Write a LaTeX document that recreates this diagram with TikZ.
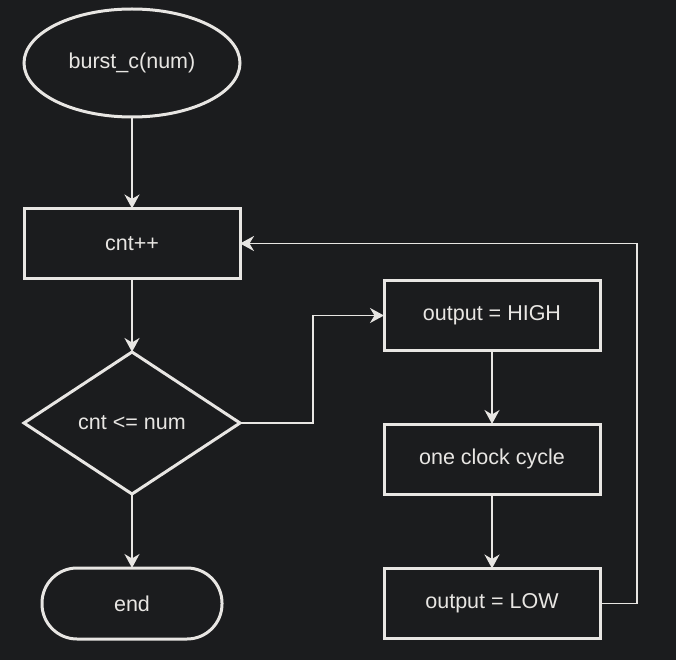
\documentclass[tikz,border=0pt]{standalone}
\usepackage{fontspec}
\setmainfont{Liberation Sans}
\usetikzlibrary{shapes.geometric,arrows.meta}
\definecolor{bgc}{HTML}{1B1C1E}
\definecolor{fgc}{HTML}{E8E6E3}
\begin{document}
\begin{tikzpicture}[x=1pt,y=-1pt,
  every node/.style={font=\fontsize{21.5pt}{24pt}\selectfont, text=fgc, draw=fgc, line width=3pt, fill=bgc, inner sep=0pt, outer sep=0pt},
  procbox/.style={rectangle, minimum width=216pt, minimum height=70pt},
  startell/.style={ellipse, minimum width=216pt, minimum height=108pt},
  decis/.style={diamond, minimum width=216pt, minimum height=142pt, aspect=1.5},
  termin/.style={rectangle, rounded corners=35pt, minimum width=180pt, minimum height=71pt},
  conn/.style={draw=fgc, line width=1.8pt, -{Stealth[length=14pt,width=15pt,inset=4.5pt]}},
  connplain/.style={draw=fgc, line width=1.8pt}
]
\fill[bgc] (0,0) rectangle (676,660);
\useasboundingbox (0,0) rectangle (676,660);

\node[startell] (start) at (132,63) {burst\_c(num)};
\node[procbox] (inc) at (132,243.5) {cnt++};
\node[decis] (dec) at (132,423) {cnt <= num};
\node[termin] (fin) at (132,603.5) {end};
\node[procbox] (high) at (492,315.5) {output = HIGH};
\node[procbox] (clk) at (492,459) {one clock cycle};
\node[procbox] (low) at (492,603.5) {output = LOW};

\draw[conn] (start) -- (inc);
\draw[conn] (inc) -- (dec);
\draw[conn] (dec) -- (fin);
\draw[conn] (dec.east) -- (313,423) |- (high.west);
\draw[conn] (high) -- (clk);
\draw[conn] (clk) -- (low);
\draw[conn] (low.east) -- (637,603.5) |- (inc.east);
\end{tikzpicture}
\end{document}
